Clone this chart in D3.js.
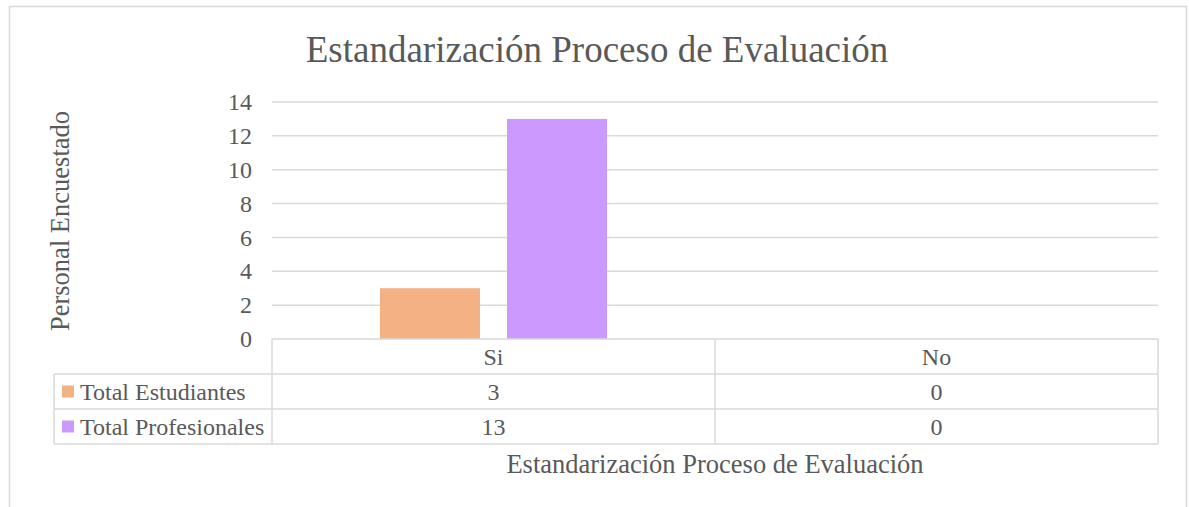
<!DOCTYPE html>
<html>
<head>
<meta charset="utf-8">
<script src="https://cdn.jsdelivr.net/npm/d3@7"></script>
<style>
  html, body { margin: 0; padding: 0; background: #fff; }
  svg text { font-family: "Liberation Serif", "Times New Roman", serif; fill: #595959; }
</style>
</head>
<body>
<svg id="chart"></svg>
<script>
const categories = ["Si", "No"];
const seriesNames = ["Total Estudiantes", "Total Profesionales"];
const estudiantes = [3, 0];
const profesionales = [13, 0];
const seriesColors = ["#F4B183", "#CC99FF"];
const yTicks = [0, 2, 4, 6, 8, 10, 12, 14];

const width = 1189, height = 507;
const margin = { left: 272, right: 31, top: 102, bottom: 168 };
const rowH = 35;
const legendX = 54;
const gridColor = "#d9d9d9";

const series = seriesNames.map((name, i) => ({
  name,
  color: seriesColors[i],
  values: [estudiantes, profesionales][i],
}));

const svg = d3.select("#chart").attr("width", width).attr("height", height);

// chart frame
svg.append("rect")
  .attr("x", 9.5).attr("y", 6.5)
  .attr("width", 1177).attr("height", 540)
  .attr("fill", "none").attr("stroke", gridColor).attr("stroke-width", 1.5);

const x0 = d3.scaleBand()
  .domain(categories)
  .range([margin.left, width - margin.right]);
const x1 = d3.scaleBand()
  .domain(seriesNames)
  .range([0, x0.bandwidth()])
  .paddingInner(0.2126)
  .paddingOuter(0.85);
const y = d3.scaleLinear()
  .domain([0, 14])
  .range([339, margin.top]);

// gridlines
svg.append("g")
  .selectAll("line")
  .data(yTicks.filter((d) => d > 0))
  .join("line")
  .attr("x1", margin.left).attr("x2", width - margin.right)
  .attr("y1", (d) => y(d)).attr("y2", (d) => y(d))
  .attr("stroke", gridColor).attr("stroke-width", 1.5);

// y axis labels
const yAxis = svg.append("g")
  .attr("transform", `translate(${margin.left},0)`)
  .call(d3.axisLeft(y).tickValues(yTicks).tickSize(0).tickPadding(20));
yAxis.select(".domain").remove();
yAxis.selectAll("text")
  .attr("font-size", 24)
  .attr("font-family", "Liberation Serif")
  .attr("fill", "#595959");

// bars
svg.append("g")
  .selectAll("g")
  .data(categories)
  .join("g")
  .attr("transform", (c) => `translate(${x0(c)},0)`)
  .selectAll("rect")
  .data((c, ci) => series.map((s) => ({ name: s.name, color: s.color, value: s.values[ci] })))
  .join("rect")
  .attr("x", (d) => x1(d.name))
  .attr("width", x1.bandwidth())
  .attr("y", (d) => y(d.value))
  .attr("height", (d) => y(0) - y(d.value))
  .attr("fill", (d) => d.color);

// data table
const tableTop = y(0);
const tableBottom = tableTop + rowH * 3;
const table = svg.append("g").attr("stroke", gridColor).attr("stroke-width", 1.5);

// horizontal lines
table.append("line")
  .attr("x1", margin.left).attr("x2", width - margin.right)
  .attr("y1", tableTop).attr("y2", tableTop);
[1, 2, 3].forEach((r) => {
  table.append("line")
    .attr("x1", legendX).attr("x2", width - margin.right)
    .attr("y1", tableTop + rowH * r).attr("y2", tableTop + rowH * r);
});
// vertical lines
table.append("line")
  .attr("x1", legendX).attr("x2", legendX)
  .attr("y1", tableTop + rowH).attr("y2", tableBottom);
categories.forEach((c) => {
  table.append("line")
    .attr("x1", x0(c)).attr("x2", x0(c))
    .attr("y1", tableTop).attr("y2", tableBottom);
});
table.append("line")
  .attr("x1", width - margin.right).attr("x2", width - margin.right)
  .attr("y1", tableTop).attr("y2", tableBottom);

// category labels
svg.append("g")
  .selectAll("text")
  .data(categories)
  .join("text")
  .attr("x", (c) => x0(c) + x0.bandwidth() / 2)
  .attr("y", tableTop + rowH / 2)
  .attr("dy", "0.35em")
  .attr("text-anchor", "middle")
  .attr("font-size", 24)
  .text((c) => c);

// series rows
const rows = svg.append("g")
  .selectAll("g")
  .data(series)
  .join("g")
  .attr("transform", (s, i) => `translate(0,${tableTop + rowH * (i + 1)})`);

rows.append("rect")
  .attr("x", 62).attr("y", rowH / 2 - 6)
  .attr("width", 12).attr("height", 12)
  .attr("fill", (s) => s.color);

rows.append("text")
  .attr("x", 80).attr("y", rowH / 2)
  .attr("dy", "0.35em")
  .attr("font-size", 24)
  .text((s) => s.name);

rows.selectAll("text.val")
  .data((s) => s.values.map((v, ci) => ({ v, c: categories[ci] })))
  .join("text")
  .attr("class", "val")
  .attr("x", (d) => x0(d.c) + x0.bandwidth() / 2)
  .attr("y", rowH / 2)
  .attr("dy", "0.35em")
  .attr("text-anchor", "middle")
  .attr("font-size", 24)
  .text((d) => d.v);

// titles
svg.append("text")
  .attr("x", 597).attr("y", 62)
  .attr("text-anchor", "middle")
  .attr("font-size", 37)
  .text("Estandarización Proceso de Evaluación");

svg.append("text")
  .attr("x", (margin.left + width - margin.right) / 2).attr("y", 473)
  .attr("text-anchor", "middle")
  .attr("font-size", 26.5)
  .text("Estandarización Proceso de Evaluación");

svg.append("text")
  .attr("transform", `translate(69,221) rotate(-90)`)
  .attr("text-anchor", "middle")
  .attr("font-size", 26.5)
  .text("Personal Encuestado");
</script>
</body>
</html>
